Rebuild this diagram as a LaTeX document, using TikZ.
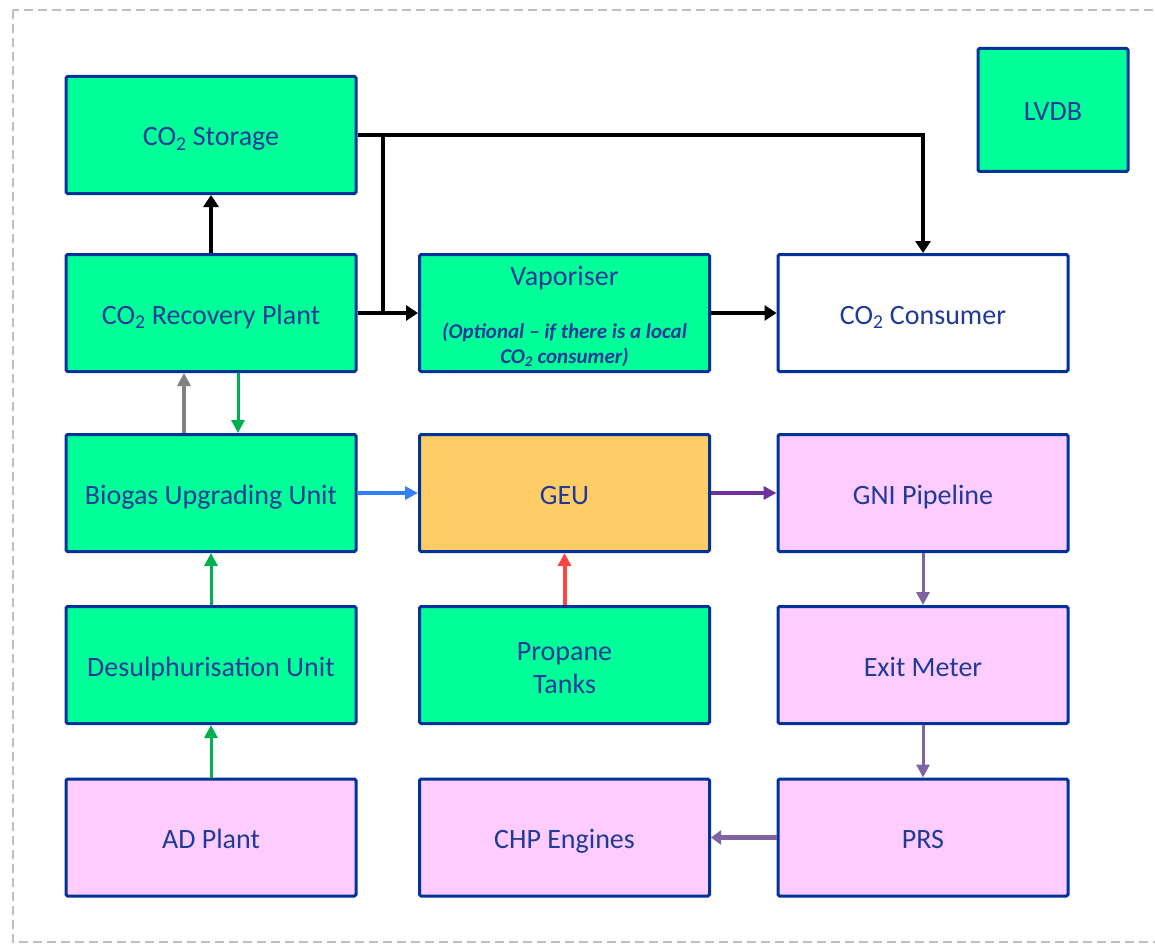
\documentclass[tikz,border=0pt]{standalone}
\usepackage{fontspec}
\setmainfont{Carlito}
\usetikzlibrary{arrows.meta}
\definecolor{boxline}{HTML}{003399}
\definecolor{txtblue}{HTML}{1F3A99}
\definecolor{mint}{HTML}{00FF99}
\definecolor{amber}{HTML}{FFCC66}
\definecolor{pinkish}{HTML}{FFCCFF}
\definecolor{flowgreen}{HTML}{00B050}
\definecolor{flowblue}{HTML}{3380FF}
\definecolor{flowpurple}{HTML}{7030A0}
\definecolor{flowlilac}{HTML}{8064A2}
\definecolor{flowred}{HTML}{FF4444}
\definecolor{flowgrey}{HTML}{808080}
\tikzset{
  unit/.style={draw=boxline, line width=3pt, rounded corners=1.5pt,
    minimum width=290pt, minimum height=117pt, inner sep=0pt,
    text=txtblue, font=\fontsize{28}{33}\selectfont,
    text height=26pt, text depth=4pt},
  greenbox/.style={unit, fill=mint},
  pinkbox/.style={unit, fill=pinkish},
  flow/.style={line width=4pt, -{Triangle[length=12pt,width=15pt]}},
  thinflow/.style={line width=3pt, -{Triangle[length=13pt,width=13pt]}},
  note/.style={text=txtblue, inner sep=0pt, align=center}
}
\begin{document}
\begin{tikzpicture}[x=1pt,y=-1pt]
\useasboundingbox (0,0) rectangle (1155,944);
% outer dashed frame
\draw[gray!50, line width=2pt, dash pattern=on 9pt off 5pt] (13,10) rectangle (1170,942);

% left column
\node[greenbox] (sto) at (211,135) {CO\textsubscript{2} Storage};
\node[greenbox] (rec) at (211,313) {CO\textsubscript{2} Recovery Plant};
\node[greenbox] (bio) at (211,493) {Biogas Upgrading Unit};
\node[greenbox] (des) at (211,665) {Desulphurisation Unit};
\node[pinkbox]  (ad)  at (211,837.5) {AD Plant};

% middle column
\node[greenbox] (vap) at (564.5,313) {};
\node[note, font=\fontsize{28}{33}\selectfont] (vapt) at (564.5,278.5) {Vaporiser};
\node[note, font=\fontsize{21}{25}\selectfont\bfseries\itshape] (vapn) at (564.5,345)
  {(Optional – if there is a local\\CO\textsubscript{2} consumer)};
\node[unit, fill=amber] (geu) at (564.5,493) {GEU};
\node[greenbox, text height=, text depth=] (pro) at (564.5,665)
  {\raisebox{-5pt}[\height][\depth]{\renewcommand{\arraystretch}{1}%
   \begin{tabular}{@{}c@{}}Propane\\Tanks\end{tabular}}};
\node[pinkbox]  (chp) at (564.5,837.5) {CHP Engines};

% right column
\node[unit, fill=white] (con) at (923,313) {CO\textsubscript{2} Consumer};
\node[pinkbox] (gni) at (923,493) {GNI Pipeline};
\node[pinkbox] (exm) at (923,665) {Exit Meter};
\node[pinkbox] (prs) at (923,837.5) {PRS};

% distribution board
\node[greenbox, minimum width=150pt, minimum height=123pt] (lvdb) at (1053,110) {LVDB};

% CO2 handling
\coordinate (jt) at (383,135);
\coordinate (jb) at (383,313);
\draw[flow] (rec) -- (sto);
\draw[flow] (rec) -- (vap);
\draw[flow] (vap) -- (con);
\draw[flow] (sto.east) -| (con.north);
\draw[line width=4pt] (jt) -- (jb);

% gas path
\draw[thinflow, flowgrey, line width=4pt] ([xshift=-27pt]bio.north) -- ([xshift=-27pt]rec.south);
\draw[thinflow, flowgreen] ([xshift=27pt]rec.south) -- ([xshift=27pt]bio.north);
\draw[thinflow, flowgreen] (des) -- (bio);
\draw[thinflow, flowgreen] (ad) -- (des);
\draw[thinflow, flowblue, line width=4pt] (bio) -- (geu);
\draw[thinflow, flowred, line width=4pt] (pro) -- (geu);
\draw[thinflow, flowpurple, line width=4pt] (geu) -- (gni);
\draw[thinflow, flowlilac] (gni) -- (exm);
\draw[thinflow, flowlilac] (exm) -- (prs);
\draw[flowlilac, line width=5pt, -{Triangle[length=10pt,width=14pt]}] (prs) -- (chp);
\end{tikzpicture}
\end{document}
